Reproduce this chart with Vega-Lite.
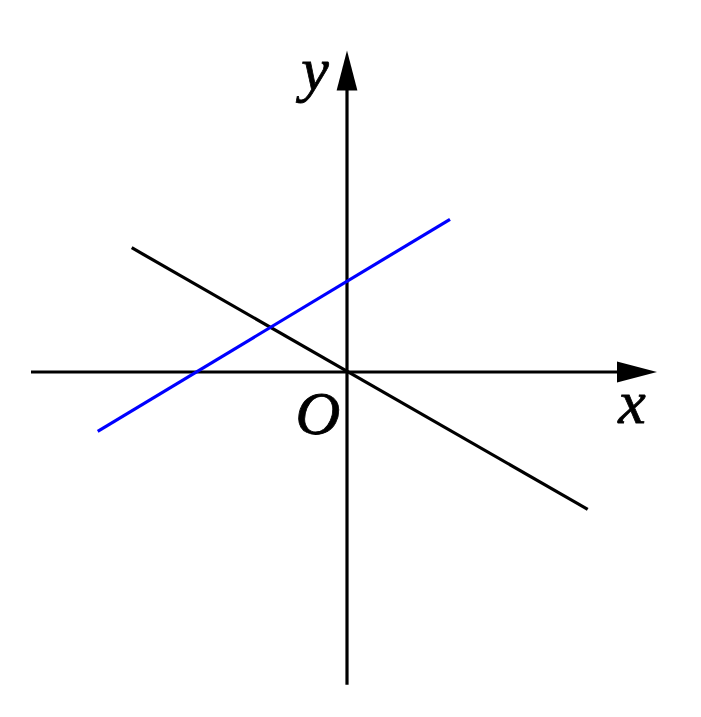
{
  "$schema": "https://vega.github.io/schema/vega-lite/v6.json",
  "width": 701,
  "height": 717,
  "autosize": {"type": "fit", "contains": "padding"},
  "padding": 0,
  "background": "white",
  "config": {"view": {"stroke": null}},
  "datasets": {
    "segments": [
      {"id": "xaxis", "x": -3.16, "y": 0},
      {"id": "xaxis", "x": 2.9, "y": 0},
      {"id": "yaxis", "x": 0, "y": -3.127},
      {"id": "yaxis", "x": 0, "y": 3.0},
      {"id": "black", "x": -2.153, "y": 1.243},
      {"id": "black", "x": 2.407, "y": -1.373}
    ],
    "blue": [
      {"x": -2.493, "y": -0.593},
      {"x": 1.03, "y": 1.527}
    ],
    "arrows": [
      {"x": 2.9, "y": 0, "angle": 0},
      {"x": 0, "y": 3.015, "angle": -90}
    ],
    "labels": [
      {"x": 2.85, "y": -0.51, "text": "x"},
      {"x": -0.29, "y": -0.615, "text": "O"},
      {"x": -0.32, "y": 2.82, "text": "y"}
    ]
  },
  "encoding": {
    "x": {"field": "x", "type": "quantitative", "scale": {"domain": [-3.47, 3.54], "nice": false, "zero": false}, "axis": null},
    "y": {"field": "y", "type": "quantitative", "scale": {"domain": [-3.45, 3.72], "nice": false, "zero": false}, "axis": null}
  },
  "layer": [
    {
      "data": {"name": "segments"},
      "mark": {"type": "line", "color": "black", "strokeWidth": 3.2, "strokeCap": "butt"},
      "encoding": {"detail": {"field": "id"}}
    },
    {
      "data": {"name": "blue"},
      "mark": {"type": "line", "color": "#0000ff", "strokeWidth": 3.2, "strokeCap": "butt"},
      "encoding": {}
    },
    {
      "data": {"name": "arrows"},
      "mark": {
        "type": "point",
        "shape": "M1,0L-1,-0.52L-1,0.52Z",
        "filled": true,
        "color": "black",
        "opacity": 1,
        "size": 1600
      },
      "encoding": {"angle": {"field": "angle", "type": "quantitative", "scale": null}}
    },
    {
      "data": {"name": "labels"},
      "mark": {
        "type": "text",
        "font": "Liberation Serif",
        "fontStyle": "italic",
        "fontSize": 62,
        "align": "center",
        "baseline": "alphabetic",
        "color": "black",
        "stroke": "black",
        "strokeWidth": 0.8
      },
      "encoding": {"text": {"field": "text"}}
    }
  ]
}
